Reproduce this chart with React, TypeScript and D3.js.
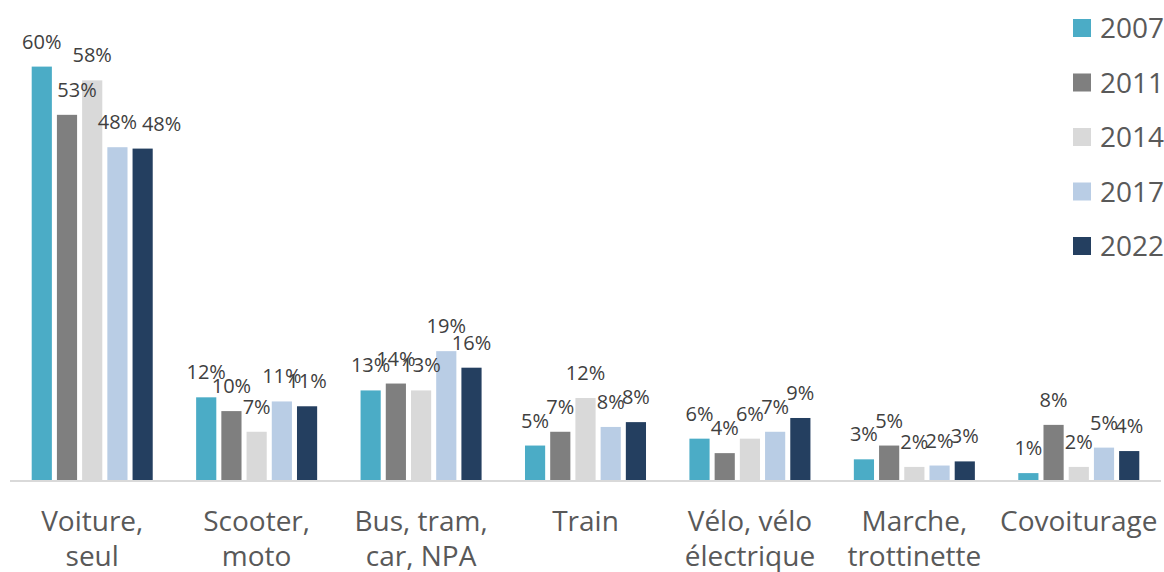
import React from "react";
import * as d3 from "d3";

// modes de déplacement domicile-travail, part en %
const categories = [
  "Voiture,\nseul",
  "Scooter,\nmoto",
  "Bus, tram,\ncar, NPA",
  "Train",
  "Vélo, vélo\nélectrique",
  "Marche,\ntrottinette",
  "Covoiturage",
];
const years = ["2007", "2011", "2014", "2017", "2022"];
const v2007 = [60, 12, 13, 5, 6, 3, 1];
const v2011 = [53, 10, 14, 7, 3.9, 5, 8];
const v2014 = [58, 7, 13, 11.9, 6, 1.9, 1.9];
const v2017 = [48.3, 11.4, 18.7, 7.7, 7, 2.1, 4.7];
const v2022 = [48.1, 10.7, 16.3, 8.4, 9, 2.7, 4.2];
const series = [v2007, v2011, v2014, v2017, v2022];

const colors = ["#4bacc6", "#7f7f7f", "#d9d9d9", "#b9cde5", "#243f60"];
const FONT = "'Open Sans', 'Liberation Sans', sans-serif";

// Excel had moved a couple of labels by hand
const labelNudge: Record<string, number> = { "0-1": 10, "0-4": 19 };

const W = 1164;
const H = 572;
const baseline = 480;

const App: React.FC = () => {
  const x0 = d3
    .scaleBand<string>()
    .domain(categories)
    .range([10, 1161])
    .paddingInner(0.264)
    .paddingOuter(0.132);
  const x1 = d3
    .scaleBand<string>()
    .domain(years)
    .range([0, x0.bandwidth()])
    .paddingInner(0.2)
    .paddingOuter(0);
  const y = d3.scaleLinear().domain([0, 60]).range([baseline, 66.6]);

  const legendY = d3.scalePoint<string>().domain(years).range([28, 246]);

  return (
    <svg
      width={W}
      height={H}
      style={{ position: "absolute", left: 0, top: 0, background: "#fff" }}
    >
      {categories.map((cat, ci) => (
        <g key={cat} transform={`translate(${x0(cat)},0)`}>
          {years.map((yr, si) => {
            const v = series[si][ci];
            const bx = x1(yr)!;
            return (
              <rect
                key={yr}
                x={bx}
                y={y(v)}
                width={x1.bandwidth()}
                height={baseline - y(v)}
                fill={colors[si]}
              />
            );
          })}
        </g>
      ))}

      <line x1={10} x2={1161} y1={baseline + 1} y2={baseline + 1} stroke="#d9d9d9" strokeWidth={2} />

      {categories.map((cat, ci) =>
        years.map((yr, si) => {
          const v = series[si][ci];
          const cx = x0(cat)! + x1(yr)! + x1.bandwidth() / 2 + (labelNudge[`${ci}-${si}`] || 0);
          return (
            <text
              key={`${cat}-${yr}`}
              x={cx}
              y={y(v) - 18}
              textAnchor="middle"
              fontFamily={FONT}
              fontSize={20}
              fill="#404040"
            >
              {`${Math.round(v)}%`}
            </text>
          );
        })
      )}

      {categories.map((cat) => {
        const cx = x0(cat)! + x0.bandwidth() / 2;
        return (
          <text
            key={cat}
            x={cx}
            y={531}
            textAnchor="middle"
            fontFamily={FONT}
            fontSize={28}
            fill="#595959"
          >
            {cat.split("\n").map((line, i) => (
              <tspan key={i} x={cx} dy={i === 0 ? 0 : 35}>
                {line}
              </tspan>
            ))}
          </text>
        );
      })}

      {years.map((yr, si) => (
        <g key={yr} transform={`translate(1073,${legendY(yr)})`}>
          <rect x={0} y={-9} width={18} height={18} fill={colors[si]} />
          <text x={27} y={10} fontFamily={FONT} fontSize={28} fill="#595959">
            {yr}
          </text>
        </g>
      ))}
    </svg>
  );
};

export default App;
